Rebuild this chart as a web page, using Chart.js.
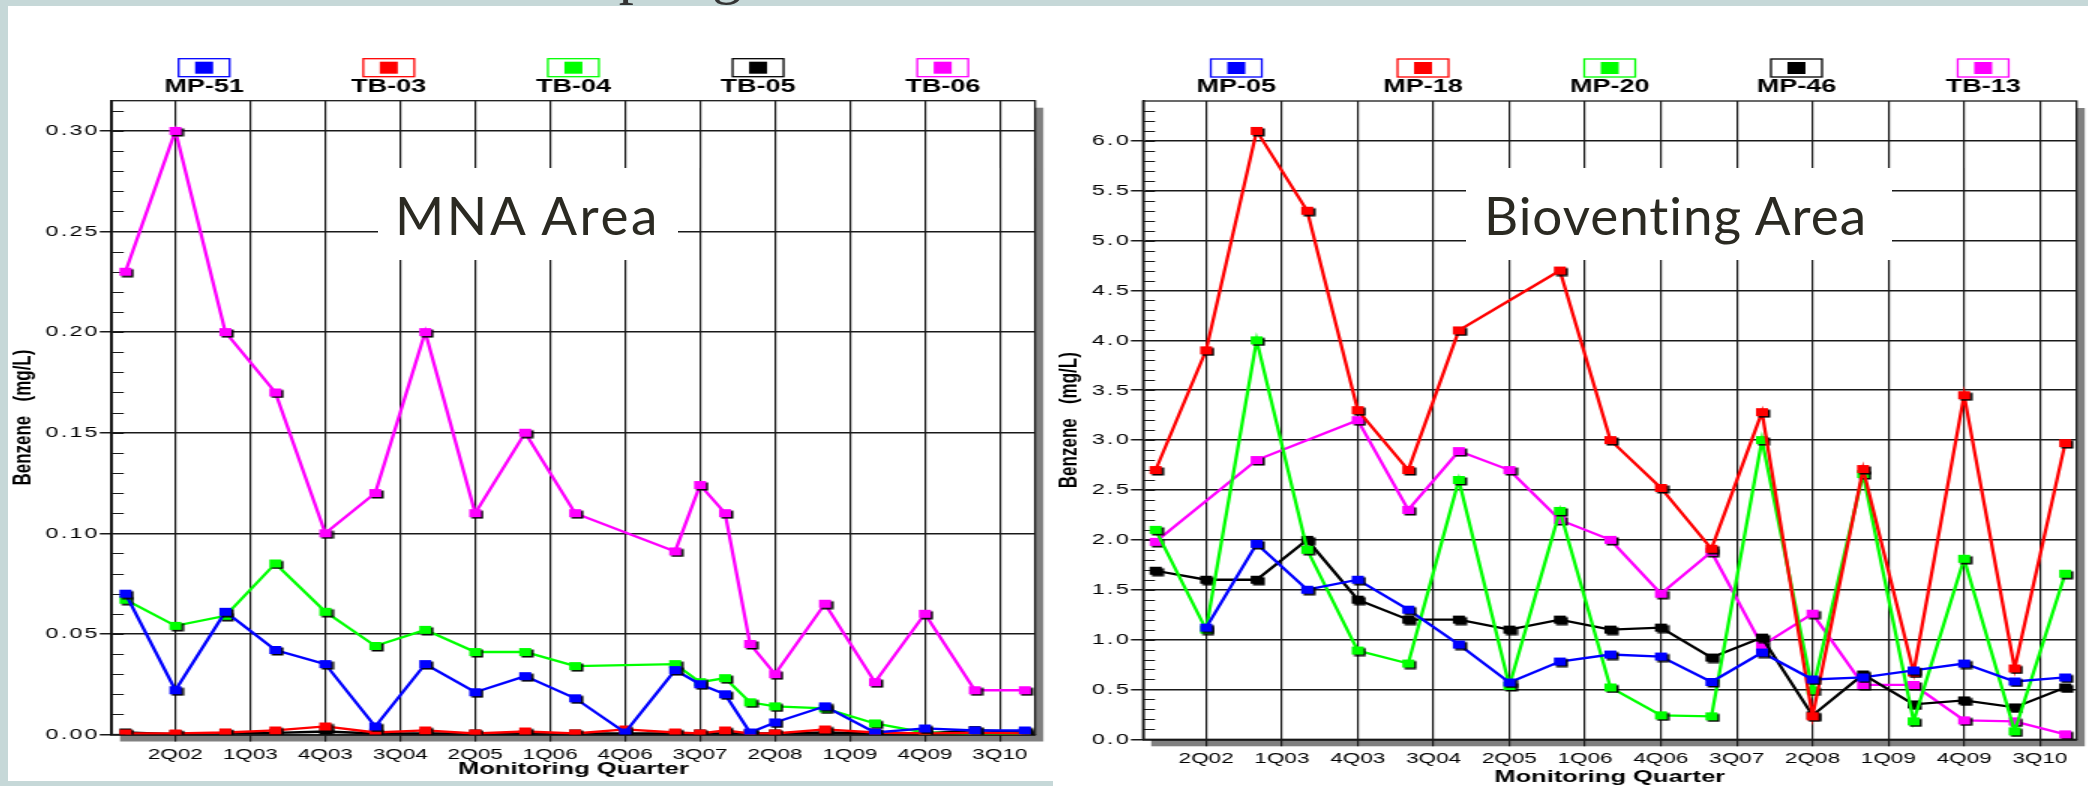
<!DOCTYPE html>
<html lang="en">
<head>
<meta charset="UTF-8">
<title>Benzene - MNA Area / Bioventing Area</title>
<script src="https://cdn.jsdelivr.net/npm/chart.js"></script>
<style>
  body { margin: 0; width: 2088px; height: 786px; overflow: hidden; position: relative; background: #c6d8d8; font-family: "Liberation Sans", Arial, sans-serif; }
  .panel { position: absolute; background: #fff; }
  .chartWrap { position: absolute; }
  /* the charts in the slide are stretched 1.5x horizontally */
  .stretch { position: absolute; left: 0; top: 0; width: 693px; height: 100%; transform: scaleX(1.5); transform-origin: 0 0; }
  .areaLabel { position: absolute; background: #fff; z-index: 4; }
  .areaLabel span { position: absolute; top: 20px; font-family: Lato, "Open Sans", sans-serif; font-size: 53px; line-height: 53px; color: #2b2a22; white-space: nowrap; }
  #slideTitle { position: absolute; left: 512px; top: -58px; font-family: "Liberation Serif", serif; font-size: 60px; line-height: 60px; color: #333; z-index: 5; white-space: nowrap; }
</style>
</head>
<body>
<div id="slideTitle">Sampling</div>
<div class="panel" style="left:8px;top:6px;width:1045px;height:775px"></div>
<div class="panel" style="left:1053px;top:6px;width:1035px;height:780px"></div>

<div class="chartWrap" style="left:8px;top:6px;width:1040px;height:775px">
  <div class="stretch"><canvas id="mnaChart"></canvas></div>
</div>
<div class="chartWrap" style="left:1048px;top:6px;width:1040px;height:780px">
  <div class="stretch"><canvas id="bioChart"></canvas></div>
</div>

<div class="areaLabel" style="left:378px;top:168px;width:300px;height:92px"><span style="left:17px" data-width="265">MNA Area</span></div>
<div class="areaLabel" style="left:1466px;top:168px;width:426px;height:92px"><span style="left:18px" data-width="384">Bioventing Area</span></div>

<script>
// quarter index counted from 1Q02 (= 0), so 4Q01 = -1, 4Q10 = 35
const quarterTicks = [1, 4, 7, 10, 13, 16, 19, 22, 25, 28, 31, 34];
const quarterTickLabels = ['2Q02', '1Q03', '4Q03', '3Q04', '2Q05', '1Q06', '4Q06', '3Q07', '2Q08', '1Q09', '4Q09', '3Q10'];
const seriesColors = ['#0000ff', '#ff0000', '#00ff00', '#000000', '#ff00ff'];

// MNA Area
const mnaQuarters = [-1, 1, 3, 5, 7, 9, 11, 13, 15, 17, 19, 21, 22, 23, 24, 25, 27, 29, 31, 33, 35];
const mnaLabels = ['MP-51', 'TB-03', 'TB-04', 'TB-05', 'TB-06'];
const mp51 = [0.070, 0.022, 0.061, 0.042, 0.035, 0.004, 0.035, 0.021, 0.029, 0.018, 0.001, 0.032, 0.025, 0.020, 0.001, 0.006, 0.014, 0.001, 0.003, 0.002, 0.002];
const tb03 = [0.0005, 0.0005, 0.001, 0.002, 0.004, 0.001, 0.002, 0.0005, 0.0015, 0.0005, 0.0025, 0.001, 0.0005, 0.002, 0.0005, 0.0005, 0.0025, 0.001, 0.0005, 0.0008, 0.0005];
const tb04 = [0.067, 0.054, 0.059, 0.085, 0.061, 0.044, 0.052, 0.041, 0.041, 0.034, null, 0.035, 0.026, 0.028, 0.016, 0.014, 0.013, 0.0055, 0.001, 0.0003, 0.0003];
const tb05 = [0.001, 0.0002, 0.0008, 0.0008, 0.0015, 0.0005, 0.0005, 0.0005, 0.0003, 0.0005, 0.0005, 0.0005, 0.0005, 0.0005, 0.0005, 0.0005, 0.001, 0.0005, 0.0005, 0.0022, 0.0012];
const tb06 = [0.23, 0.30, 0.20, 0.17, 0.10, 0.12, 0.20, 0.11, 0.15, 0.11, null, 0.091, 0.124, 0.11, 0.045, 0.030, 0.065, 0.026, 0.060, 0.022, 0.022];
const mnaYTicks = [0, 0.05, 0.10, 0.15, 0.20, 0.25, 0.30];
const mnaYTickLabels = ['0.00', '0.05', '0.10', '0.15', '0.20', '0.25', '0.30'];

// Bioventing Area
const bioQuarters = [-1, 1, 3, 5, 7, 9, 11, 13, 15, 17, 19, 21, 23, 25, 27, 29, 31, 33, 35];
const bioLabels = ['MP-05', 'MP-18', 'MP-20', 'MP-46', 'TB-13'];
const mp05 = [null, 1.12, 1.96, 1.50, 1.60, 1.30, 0.95, 0.57, 0.78, 0.85, 0.83, 0.575, 0.87, 0.60, 0.62, 0.69, 0.76, 0.58, 0.62];
const mp18 = [2.70, 3.90, 6.10, 5.30, 3.30, 2.70, 4.10, null, 4.70, 3.00, 2.52, 1.91, 3.28, 0.23, 2.71, 0.67, 3.45, 0.71, 2.97];
const mp20 = [2.10, 1.10, 4.00, 1.90, 0.89, 0.76, 2.60, 0.535, 2.29, 0.52, 0.24, 0.23, 3.00, 0.49, 2.66, 0.18, 1.81, 0.08, 1.66];
const mp46 = [1.69, 1.60, 1.60, 2.00, 1.40, 1.20, 1.20, 1.10, 1.20, 1.10, 1.12, 0.82, 1.02, 0.24, 0.65, 0.35, 0.39, 0.32, 0.52];
const tb13 = [1.98, null, 2.80, null, 3.20, 2.30, 2.89, 2.70, 2.20, 2.00, 1.46, 1.88, 0.94, 1.26, 0.545, 0.545, 0.19, 0.18, 0.05];
const bioYTicks = [0, 0.5, 1.0, 1.5, 2.0, 2.5, 3.0, 3.5, 4.0, 4.5, 5.0, 5.5, 6.0];
const bioYTickLabels = ['0.0', '0.5', '1.0', '1.5', '2.0', '2.5', '3.0', '3.5', '4.0', '4.5', '5.0', '5.5', '6.0'];

const fontFamily = '"Liberation Sans", Arial, sans-serif';

// square marker with a small black drop shadow
function makeMarker(color) {
  const c = document.createElement('canvas');
  c.width = 12;
  c.height = 12;
  const g = c.getContext('2d');
  g.fillStyle = '#000';
  g.fillRect(3.5, 3.5, 8, 8);
  g.fillStyle = color;
  g.fillRect(2, 2, 8, 8);
  return c;
}

// plot shadow, frame, minor ticks and the boxed legend above the plot
const decor = {
  id: 'decor',
  beforeDraw(chart) {
    const {ctx, chartArea: a} = chart;
    ctx.save();
    ctx.fillStyle = '#808080';
    ctx.fillRect(a.left + 5.5, a.top + 7, a.right - a.left, a.bottom - a.top);
    ctx.fillStyle = '#ffffff';
    ctx.fillRect(a.left, a.top, a.right - a.left, a.bottom - a.top);
    ctx.restore();
  },
  beforeDatasetsDraw(chart, args, opts) {
    const {ctx, chartArea: a} = chart;
    const y = chart.scales.y;
    ctx.save();
    ctx.strokeStyle = '#1a1a1a';
    ctx.lineWidth = 1.3;
    ctx.strokeRect(a.left, a.top, a.right - a.left, a.bottom - a.top);
    ctx.lineWidth = 1;
    ctx.beginPath();
    for (let k = 1; k * opts.minorStep < y.max; k++) {
      const py = Math.round(y.getPixelForValue(k * opts.minorStep)) + 0.5;
      ctx.moveTo(a.left, py);
      ctx.lineTo(a.left + 8, py);
    }
    ctx.stroke();
    ctx.restore();
  },
  afterDraw(chart) {
    const {ctx, chartArea: a} = chart;
    const sets = chart.data.datasets;
    ctx.save();
    sets.forEach((ds, i) => {
      const cx = a.left + (a.right - a.left) * (i + 0.5) / sets.length;
      ctx.strokeStyle = ds.borderColor;
      ctx.lineWidth = 1.3;
      ctx.strokeRect(cx - 17, a.top - 42, 34, 18);
      ctx.fillStyle = ds.borderColor;
      ctx.fillRect(cx - 6, a.top - 39, 12, 12);
      ctx.fillStyle = '#000';
      ctx.font = 'bold 18px ' + fontFamily;
      ctx.textAlign = 'center';
      ctx.textBaseline = 'middle';
      ctx.fillText(ds.label, cx, a.top - 14);
    });
    ctx.restore();
  }
};

function makeChart(id, xs, labels, values, yTicks, yTickLabels, cfg) {
  const datasets = labels.map((lab, i) => ({
    label: lab,
    data: xs.map((x, j) => ({x: x, y: values[i][j]})),
    borderColor: seriesColors[i],
    backgroundColor: seriesColors[i],
    borderWidth: 2.3,
    pointStyle: makeMarker(seriesColors[i]),
    pointRadius: 5,
    spanGaps: true,
    tension: 0
  }));

  return new Chart(document.getElementById(id), {
    type: 'line',
    data: {datasets: datasets},
    options: {
      responsive: true,
      maintainAspectRatio: false,
      animation: false,
      layout: {padding: {left: 0, right: cfg.padRight, top: cfg.padTop, bottom: 0}},
      plugins: {
        legend: {display: false},
        tooltip: {enabled: false},
        decor: {minorStep: cfg.minorStep}
      },
      scales: {
        x: {
          type: 'linear',
          bounds: 'data',
          min: cfg.xMin,
          max: cfg.xMax,
          afterBuildTicks: s => { s.ticks = quarterTicks.map(v => ({value: v})); },
          afterFit: s => { s.height = cfg.xAxisHeight; },
          ticks: {
            autoSkip: false,
            maxRotation: 0,
            padding: 4,
            color: '#000',
            font: {size: 15, family: fontFamily},
            callback: (v, i) => quarterTickLabels[i]
          },
          grid: {color: '#1a1a1a', lineWidth: 1.2, tickLength: 7},
          border: {color: '#000', width: 1.5},
          title: {
            display: true,
            text: 'Monitoring Quarter',
            color: '#000',
            font: {size: 17, weight: 'bold', family: fontFamily, lineHeight: 1},
            padding: {top: 0, bottom: cfg.xTitlePad}
          }
        },
        y: {
          bounds: 'data',
          min: 0,
          max: cfg.yMax,
          afterBuildTicks: s => { s.ticks = yTicks.map(v => ({value: v})); },
          afterFit: s => {
            s.width = cfg.yAxisWidth;
            if (!s._spaced) {
              const drawLabels = s.drawLabels;
              s.drawLabels = function (area) {
                this.ctx.save();
                this.ctx.letterSpacing = '1.5px';
                drawLabels.call(this, area);
                this.ctx.restore();
              };
              s._spaced = true;
            }
          },
          ticks: {
            padding: 0,
            color: '#000',
            font: {size: 15.5, family: fontFamily},
            callback: (v, i) => yTickLabels[i]
          },
          grid: {color: '#1a1a1a', lineWidth: 1.5, tickLength: 8},
          border: {color: '#000', width: 1.5},
          title: {
            display: true,
            text: 'Benzene   (mg/L)',
            color: '#000',
            font: {size: 17, weight: 'bold', family: fontFamily, lineHeight: 1},
            padding: {top: cfg.yTitlePad, bottom: 0}
          }
        }
      }
    },
    plugins: [decor]
  });
}

makeChart('mnaChart', mnaQuarters, mnaLabels, [mp51, tb03, tb04, tb05, tb06], mnaYTicks, mnaYTickLabels, {
  xMin: -1.546, xMax: 35.41, yMax: 0.315, minorStep: 0.01,
  padTop: 94.7, padRight: 8.3, yAxisWidth: 69.2, xAxisHeight: 46.5, xTitlePad: 3, yTitlePad: 1.8
});

makeChart('bioChart', bioQuarters, bioLabels, [mp05, mp18, mp20, mp46, tb13], bioYTicks, bioYTickLabels, {
  xMin: -1.5, xMax: 35.45, yMax: 6.4, minorStep: 0.1,
  padTop: 95, padRight: 5.7, yAxisWidth: 63.3, xAxisHeight: 46.7, xTitlePad: 0.5, yTitlePad: 6.2
});

// fit the overlaid area captions to their width in the slide
document.querySelectorAll('.areaLabel span').forEach(sp => {
  const target = Number(sp.dataset.width);
  const w = sp.getBoundingClientRect().width;
  sp.style.letterSpacing = ((target - w) / sp.textContent.length) + 'px';
});
</script>
</body>
</html>
